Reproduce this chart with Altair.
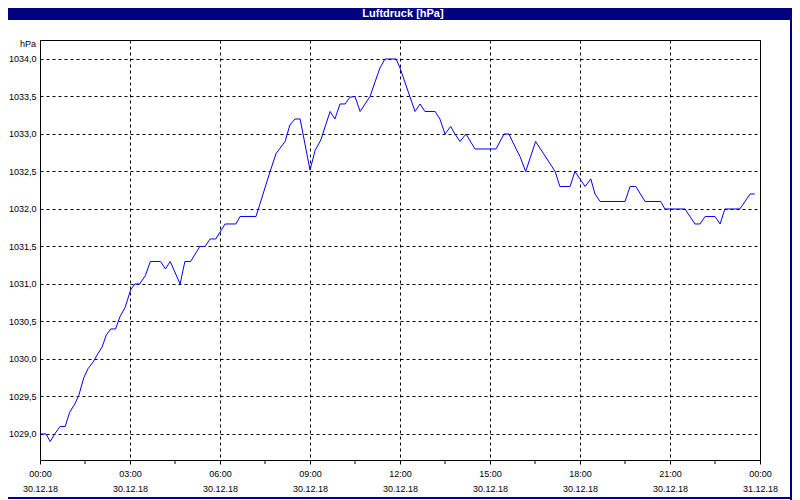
import altair as alt
import pandas as pd

# ---- data ----
hours = [0, 0.2, 0.34, 0.49, 0.67, 0.84, 0.99, 1.16, 1.29, 1.46, 1.6, 1.77, 1.93, 2.07, 2.21,
         2.36, 2.52, 2.66, 2.84, 3.02, 3.16, 3.32, 3.51, 3.68, 4.02, 4.18, 4.34, 4.67, 4.83,
         5.02, 5.33, 5.5, 5.67, 5.86, 6.17, 6.53, 6.67, 7.2, 7.67, 7.87, 8.17, 8.33, 8.5,
         8.67, 9.0, 9.17, 9.36, 9.67, 9.83, 10.0, 10.17, 10.33, 10.5, 10.67, 11.0, 11.33,
         11.5, 11.87, 12.0, 12.5, 12.67, 12.83, 13.17, 13.33, 13.5, 13.69, 13.83, 14.0,
         14.2, 14.5, 15.2, 15.47, 15.63, 15.87, 16.0, 16.19, 16.52, 16.78, 17.17, 17.33,
         17.67, 17.83, 18.0, 18.17, 18.36, 18.5, 18.67, 19.5, 19.67, 19.86, 20.17, 20.69,
         20.83, 21.5, 21.83, 22.0, 22.17, 22.5, 22.67, 22.83, 23.33, 23.67, 23.83]
pressure = [1029.0, 1029.0, 1028.9, 1029.0, 1029.1, 1029.1, 1029.29, 1029.4, 1029.51, 1029.75,
            1029.87, 1029.96, 1030.07, 1030.16, 1030.32, 1030.4, 1030.4, 1030.56, 1030.69,
            1030.92, 1031.0, 1031.0, 1031.11, 1031.3, 1031.3, 1031.2, 1031.3, 1031.0, 1031.3,
            1031.3, 1031.5, 1031.5, 1031.6, 1031.6, 1031.8, 1031.8, 1031.9, 1031.9, 1032.5,
            1032.74, 1032.9, 1033.12, 1033.2, 1033.2, 1032.52, 1032.78, 1032.92, 1033.3,
            1033.2, 1033.4, 1033.4, 1033.49, 1033.5, 1033.3, 1033.5, 1033.88, 1034.0, 1034.0,
            1033.88, 1033.3, 1033.4, 1033.3, 1033.3, 1033.2, 1033.0, 1033.1, 1033.0, 1032.9,
            1033.0, 1032.8, 1032.8, 1033.0, 1033.0, 1032.8, 1032.7, 1032.5, 1032.9, 1032.74,
            1032.5, 1032.3, 1032.3, 1032.5, 1032.4, 1032.3, 1032.4, 1032.2, 1032.1, 1032.1,
            1032.3, 1032.3, 1032.1, 1032.1, 1032.0, 1032.0, 1031.8, 1031.8, 1031.9, 1031.9,
            1031.8, 1032.0, 1032.0, 1032.2, 1032.2]

x_ticks = [0, 3, 6, 9, 12, 15, 18, 21, 24]
x_minor = [1.5, 4.5, 7.5, 10.5, 13.5, 16.5, 19.5, 22.5]
time_labels = ["00:00", "03:00", "06:00", "09:00", "12:00", "15:00", "18:00", "21:00", "00:00"]
date_labels = ["30.12.18"] * 8 + ["31.12.18"]
y_ticks = [1029.0, 1029.5, 1030.0, 1030.5, 1031.0, 1031.5, 1032.0, 1032.5, 1033.0, 1033.5, 1034.0]
title_text = "Luftdruck [hPa]"
unit_text = "hPa"

df = pd.DataFrame({"h": hours, "p": pressure})
minor_df = pd.DataFrame({"h": x_minor})
one = pd.DataFrame({"t": [title_text], "u": [unit_text]})

# label expression for two-line x labels
expr = "''"
for v, t, d in reversed(list(zip(x_ticks, time_labels, date_labels))):
    expr = f"datum.value == {v} ? ['{t}', '{d}'] : ({expr})"

FONT = "Liberation Sans"
NAVY = "#000080"

xscale = alt.Scale(domain=[0, 24], nice=False, zero=False)
yscale = alt.Scale(domain=[1028.653, 1034.253], nice=False, zero=False)

line = alt.Chart(df).mark_line(color="#0000ff", strokeWidth=1).encode(
    x=alt.X("h:Q", scale=xscale,
            axis=alt.Axis(values=x_ticks, labelExpr=expr, title=None, grid=True,
                          gridDash=[3, 3], gridColor="black", gridOpacity=1, gridWidth=1,
                          domain=False, ticks=True, tickSize=4, tickColor="black",
                          labelFont=FONT, labelFontSize=9, labelColor="black",
                          labelLineHeight=15, labelPadding=5.5, labelFlush=False,
                          labelOverlap=False)),
    y=alt.Y("p:Q", scale=yscale,
            axis=alt.Axis(values=y_ticks,
                          labelExpr="replace(format(datum.value, '.1f'), '.', ',')",
                          title=None, grid=True, gridDash=[3, 3], gridColor="black",
                          gridOpacity=1, gridWidth=1, domain=False, ticks=False,
                          labelFont=FONT, labelFontSize=9, labelColor="black",
                          labelPadding=4, labelFlush=False, labelOverlap=False)),
)

minor = alt.Chart(minor_df).mark_rule(color="black", strokeWidth=1).encode(
    x=alt.X("h:Q", scale=xscale), y=alt.value(420), y2=alt.value(424)
)

title_bar = alt.Chart(one).mark_rect(color=NAVY).encode(
    x=alt.value(-32), x2=alt.value(752), y=alt.value(-32), y2=alt.value(-20)
)
title = alt.Chart(one).mark_text(color="white", font=FONT, fontSize=11, fontWeight="bold",
                                 align="center", baseline="middle").encode(
    x=alt.value(363), y=alt.value(-26), text="t:N"
)
unit = alt.Chart(one).mark_text(color="black", font=FONT, fontSize=9,
                                align="right", baseline="middle").encode(
    x=alt.value(-4), y=alt.value(4), text="u:N"
)
border_r = alt.Chart(one).mark_rule(color=NAVY, strokeWidth=2).encode(
    x=alt.value(751), y=alt.value(-32), y2=alt.value(460)
)
border_b = alt.Chart(one).mark_rule(color=NAVY, strokeWidth=2).encode(
    x=alt.value(-32), x2=alt.value(752), y=alt.value(458)
)

chart = alt.layer(line, minor, title_bar, title, unit, border_r, border_b).properties(
    width=720, height=420,
    autosize=alt.AutoSizeParams(type="none"),
    padding={"left": 32, "top": 32, "right": 32, "bottom": 40},
    background="white",
).configure_view(stroke="black", strokeWidth=1)

chart.save("out.html", embed_options={"renderer": "svg", "actions": False})
